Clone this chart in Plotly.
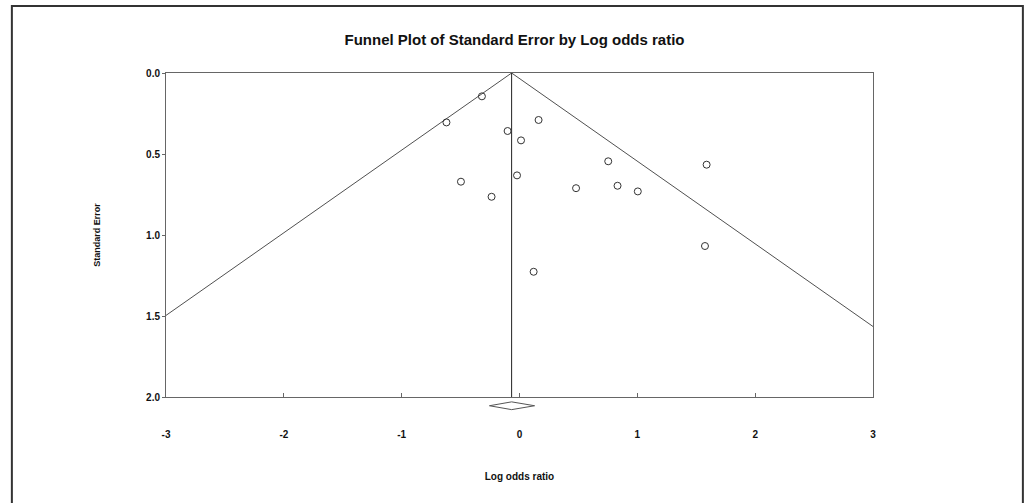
import plotly.graph_objects as go

# Study-level estimates: log odds ratio and its standard error
log_odds = [-0.319, -0.620, 0.162, -0.101, 0.013, 0.753, -0.497, -0.021,
            0.480, 0.832, 1.004, -0.237, 0.120, 1.588, 1.574]
std_err = [0.144, 0.305, 0.290, 0.358, 0.416, 0.545, 0.671, 0.632,
           0.711, 0.696, 0.731, 0.764, 1.227, 0.566, 1.068]

# Pooled estimate with its 95% confidence interval
pooled = -0.067
pooled_lo = -0.255
pooled_hi = 0.128
z95 = 1.96

x_ticks = [-3, -2, -1, 0, 1, 2, 3]
y_ticks = [0.0, 0.5, 1.0, 1.5, 2.0]
x_range = [-3, 3]
y_range = [2.0, 0.0]

# Funnel boundaries: pooled +/- 1.96*SE, running out to the x-axis limits
se_left = (pooled - x_range[0]) / z95
se_right = (x_range[1] - pooled) / z95
funnel_x = [x_range[0], pooled, x_range[1]]
funnel_y = [se_left, 0.0, se_right]

FONT = "Liberation Sans, Arial, sans-serif"
TXT = "#111111"

fig = go.Figure()

fig.add_trace(go.Scatter(
    x=funnel_x, y=funnel_y, mode="lines",
    line=dict(color="#505050", width=1), hoverinfo="skip", showlegend=False,
))
fig.add_trace(go.Scatter(
    x=[pooled, pooled], y=[0.0, y_range[0]], mode="lines",
    line=dict(color="#222222", width=1), hoverinfo="skip", showlegend=False,
))
fig.add_trace(go.Scatter(
    x=log_odds, y=std_err, mode="markers",
    marker=dict(symbol="circle-open", size=7, color="#333333",
                line=dict(width=1, color="#333333")),
    showlegend=False,
))

# Summary diamond drawn just beneath the plotting frame
dy = 0.012
dmid = -0.027
diamond = (f"M {pooled_lo} {dmid} L {pooled} {dmid + dy} "
           f"L {pooled_hi} {dmid} L {pooled} {dmid - dy} Z")
fig.add_shape(type="path", path=diamond, xref="x", yref="paper",
              line=dict(color="#555555", width=1), fillcolor="rgba(0,0,0,0)")

# Outer page border
fig.add_shape(type="rect", xref="paper", yref="paper",
              x0=-0.218, x1=1.212, y0=-0.4, y1=1.2065,
              line=dict(color="#333333", width=2), fillcolor="rgba(0,0,0,0)",
              layer="below")

fig.update_layout(
    width=1029, height=503,
    margin=dict(l=166, r=156, t=73, b=105.5),
    paper_bgcolor="white", plot_bgcolor="white",
    font=dict(family=FONT, color=TXT),
    title=dict(text="Funnel Plot of Standard Error by Log odds ratio",
               x=0.5, xref="container", y=0.921, yref="container",
               xanchor="center", yanchor="middle",
               font=dict(family=FONT, size=15, color=TXT, weight="bold")),
    xaxis=dict(
        range=x_range, tickvals=x_ticks, ticktext=[str(t) for t in x_ticks],
        showgrid=False, zeroline=False, showline=True, mirror=True,
        linecolor="#666666", linewidth=1,
        ticks="inside", ticklen=4, tickcolor="#666666",
        ticklabelstandoff=28,
        tickfont=dict(family=FONT, size=10, color=TXT, weight="bold"),
        title=dict(text="Log odds ratio", standoff=33,
                   font=dict(family=FONT, size=10, color=TXT, weight="bold")),
    ),
    yaxis=dict(
        range=y_range, tickvals=y_ticks,
        ticktext=[f"{t:.1f}" for t in y_ticks],
        showgrid=False, zeroline=False, showline=True, mirror=True,
        linecolor="#666666", linewidth=1,
        ticks="outside", ticklen=3, tickcolor="#666666",
        tickfont=dict(family=FONT, size=10, color=TXT, weight="bold"),
        title=dict(text="Standard Error", standoff=43,
                   font=dict(family=FONT, size=9, color=TXT, weight="bold")),
    ),
)

fig.write_html("out.html")
